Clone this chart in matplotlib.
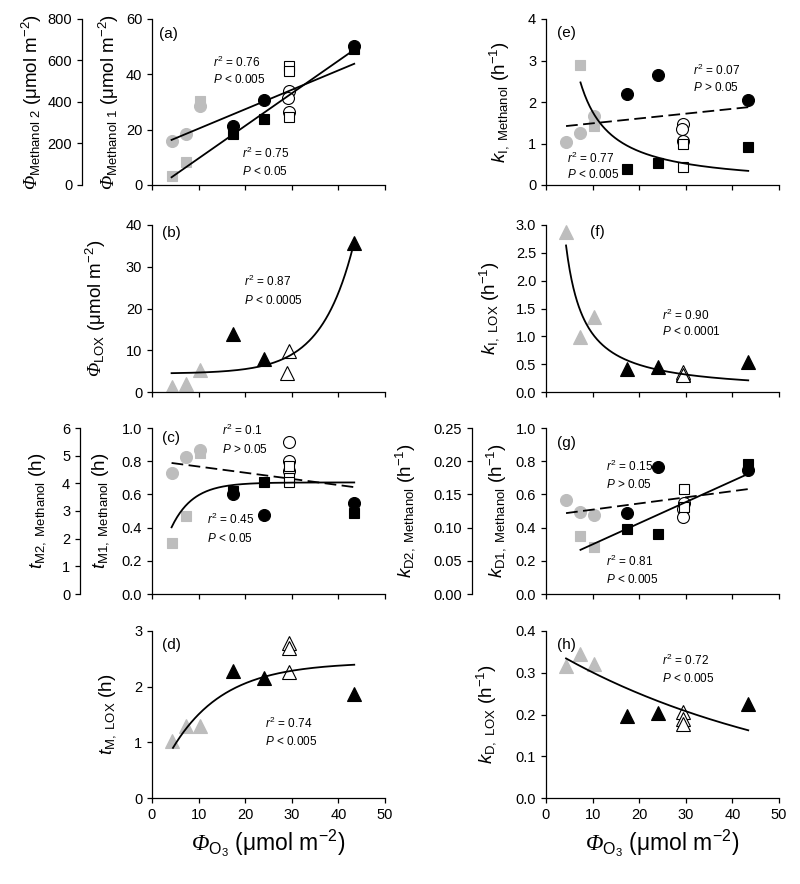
import numpy as np
import matplotlib
matplotlib.use('Agg')
import matplotlib.pyplot as plt
from matplotlib.ticker import FormatStrFormatter

plt.rcParams['font.family'] = ['Liberation Sans', 'DejaVu Sans']
plt.rcParams['mathtext.fontset'] = 'custom'
plt.rcParams['mathtext.rm'] = 'Liberation Sans'
plt.rcParams['mathtext.it'] = 'Liberation Sans:italic'
plt.rcParams['mathtext.bf'] = 'Liberation Sans:bold'
plt.rcParams['mathtext.cal'] = 'Liberation Serif:italic'

# ---------------- data ----------------
XG = [4.2, 7.3, 10.2]          # gray group ozone dose
XB = [17.3, 24.1, 43.4]        # black group ozone dose

# (a) Phi methanol: squares (left axis, umol m-2), circles (secondary axis)
a_sq_xw = [29.3, 29.4, 29.3]
a_sq_g = [3.1, 8.3, 30.5]
a_sq_b = [18.4, 23.9, 49.0]
a_sq_w = [43.0, 41.3, 24.5]
a_ci_xw = [29.3, 29.1, 29.4]
a_ci_g = [213, 247, 381]
a_ci_b = [283, 411, 672]
a_ci_w = [451, 419, 352]
a_sq_fit = [1.176, -2.14]      # slope, intercept
a_ci_fit = [9.36, 178.0]

# (b) Phi LOX
b_xw = [29.4, 29.0]
b_g = [1.2, 1.8, 5.2]
b_b = [13.8, 8.0, 35.8]
b_w = [9.8, 4.6]
b_fit = [4.4, 0.0617, 0.1437]  # y0 + a*exp(c*x)

# (c) t_M methanol
c_sq_xw = [29.3, 29.5, 29.5]
c_sq_g = [0.31, 0.47, 0.85]
c_sq_b = [0.622, 0.674, 0.487]
c_sq_w = [0.77, 0.698, 0.672]
c_ci_xw = [29.3, 29.3, 29.5]
c_ci_g = [4.37, 4.94, 5.21]
c_ci_b = [3.62, 2.86, 3.28]
c_ci_w = [5.49, 4.82, 4.45]
c_sq_fit = [0.672, 0.217]      # a*(1-exp(-b x))
c_ci_fit = [-0.0223, 4.83]

# (d) t_M LOX
d_xg = [4.2, 7.4, 10.3]
d_xw = [29.3, 29.4, 29.3]
d_g = [1.02, 1.29, 1.29]
d_b = [2.29, 2.15, 1.87]
d_w = [2.79, 2.69, 2.26]
d_fit = [2.44, 2.31, 0.0902]   # a - b*exp(-c x)

# (e) k_I methanol
e_ci_xg = [4.3, 7.4, 10.2]
e_ci_g = [1.03, 1.26, 1.67]
e_ci_b = [2.2, 2.66, 2.04]
e_ci_xw = [29.5, 29.1, 29.3]
e_ci_w = [1.47, 1.35, 1.05]
e_sq_xg = [7.4, 10.2]
e_sq_g = [2.89, 1.43]
e_sq_b = [0.39, 0.52, 0.92]
e_sq_xw = [29.3, 29.5]
e_sq_w = [0.99, 0.43]
e_ci_fit = [0.01164, 1.37]
e_sq_fit = [23.3, -1.121]      # a*x^b

# (f) k_I LOX
f_xg = [4.3, 7.4, 10.2]
f_xw = [29.3, 29.5, 29.4]
f_g = [2.88, 0.98, 1.35]
f_b = [0.42, 0.45, 0.53]
f_w = [0.33, 0.36, 0.31]
f_fit = [13.0, -1.095]

# (g) k_D methanol
g_sq_xg = [7.4, 10.2]
g_sq_g = [0.352, 0.282]
g_sq_b = [0.392, 0.362, 0.785]
g_sq_xw = [29.7, 29.6]
g_sq_w = [0.633, 0.525]
g_ci_xg = [4.3, 7.4, 10.2]
g_ci_g = [0.141, 0.123, 0.119]
g_ci_b = [0.122, 0.192, 0.186]
g_ci_xw = [29.6, 29.5, 29.5]
g_ci_w = [0.137, 0.128, 0.116]
g_sq_fit = [0.01272, 0.1719]
g_ci_fit = [0.000927, 0.1178]

# (h) k_D LOX
h_xg = [4.3, 7.4, 10.2]
h_xw = [29.3, 29.4, 29.4]
h_g = [0.316, 0.346, 0.322]
h_b = [0.197, 0.204, 0.225]
h_w = [0.206, 0.190, 0.178]
h_fit = [0.362, 0.0185]        # a*exp(-b x)

# ---------------- style ----------------
GRAY = '#bdbdbd'
MS_C, MS_S, MS_T = 8.6, 7.6, 9.6
TICK_FS = 10.5
YL_FS = 13.5
XL_FS = 16.5
ANN_FS = 8.5
LW = 1.3
DASH = (0, (6.5, 3))

fig = plt.figure(figsize=(8, 8.84), dpi=100)
W, H = 800, 884


def make_ax(left_px, top_px, bottom_px, right_px):
    return fig.add_axes([left_px / W, 1 - bottom_px / H,
                         (right_px - left_px) / W, (bottom_px - top_px) / H])


def style(ax, ylim, yticks, fmt, bottom_row):
    ax.set_xlim(0, 50)
    ax.set_xticks(range(0, 51, 10))
    ax.set_ylim(*ylim)
    ax.set_yticks(yticks)
    ax.yaxis.set_major_formatter(FormatStrFormatter(fmt))
    for s in ['top', 'right']:
        ax.spines[s].set_visible(False)
    for s in ['left', 'bottom']:
        ax.spines[s].set_linewidth(0.9)
    ax.tick_params(direction='out', length=3.6, width=0.9, labelsize=TICK_FS, pad=3.5)
    if not bottom_row:
        ax.tick_params(axis='x', labelbottom=False)
    ax.patch.set_visible(False)


def secondary(ax, off, ylim, yticks, fmt):
    ax2 = ax.twinx()
    for s in ['top', 'right', 'bottom']:
        ax2.spines[s].set_visible(False)
    ax2.spines['left'].set_visible(True)
    ax2.spines['left'].set_position(('axes', off))
    ax2.spines['left'].set_linewidth(0.9)
    ax2.yaxis.set_ticks_position('left')
    ax2.yaxis.set_label_position('left')
    ax2.set_ylim(*ylim)
    ax2.set_yticks(yticks)
    ax2.yaxis.set_major_formatter(FormatStrFormatter(fmt))
    ax2.tick_params(direction='out', length=3.6, width=0.9, labelsize=TICK_FS, pad=3.5)
    ax2.set_zorder(ax.get_zorder() - 1)
    return ax2


def pts(ax, x, y, marker, kind, ms):
    if kind == 'g':
        ax.plot(x, y, marker, ls='none', ms=ms, mfc=GRAY, mec=GRAY, mew=0.8)
    elif kind == 'b':
        ax.plot(x, y, marker, ls='none', ms=ms, mfc='black', mec='black', mew=0.8)
    else:
        ax.plot(x, y, marker, ls='none', ms=ms, mfc='white', mec='black', mew=0.8)


def ann(ax, x, y, r2, p):
    ax.text(x, y[0], r'$r^2$ = ' + r2, fontsize=ANN_FS, va='center', ha='left')
    ax.text(x, y[1], r'$P$ ' + p, fontsize=ANN_FS, va='center', ha='left')


PHI = r'\mathcal{\Phi}'
XL = r'$' + PHI + r'_{\mathrm{O_3}}$ (μmol m$^{-2}$)'
LEFT = (152, 385)
RIGHT = (546, 779)
ROWS = [(19, 185), (225, 392), (428, 594), (631, 798)]

# ---------- (a) ----------
ax = make_ax(LEFT[0], ROWS[0][0], ROWS[0][1], LEFT[1])
style(ax, (0, 60), [0, 20, 40, 60], '%d', False)
ax2 = secondary(ax, -0.30, (0, 800), [0, 200, 400, 600, 800], '%d')
pts(ax2, XG, a_ci_g, 'o', 'g', MS_C)
pts(ax2, XB, a_ci_b, 'o', 'b', MS_C)
pts(ax2, a_ci_xw, a_ci_w, 'o', 'w', MS_C)
xx = np.linspace(min(XG), max(XB), 50)
ax2.plot(xx, a_ci_fit[0] * xx + a_ci_fit[1], color='black', lw=LW)
pts(ax, XG, a_sq_g, 's', 'g', MS_S)
pts(ax, XB, a_sq_b, 's', 'b', MS_S)
pts(ax, a_sq_xw, a_sq_w, 's', 'w', MS_S)
ax.plot(xx, a_sq_fit[0] * xx + a_sq_fit[1], color='black', lw=LW)
ax.text(1.6, 54.7, '(a)', fontsize=11, va='center')
ann(ax, 13.1, (44.2, 38.0), '0.76', '< 0.005')
ann(ax, 19.4, (11.5, 4.9), '0.75', '< 0.05')
ax.set_ylabel(r'$' + PHI + r'_{\mathrm{Methanol\ 1}}$ (μmol m$^{-2}$)', fontsize=YL_FS)
ax.yaxis.set_label_coords(-0.133, 0.5)
ax2.set_ylabel(r'$' + PHI + r'_{\mathrm{Methanol\ 2}}$ (μmol m$^{-2}$)', fontsize=YL_FS)
ax2.yaxis.set_label_coords(-0.462, 0.5)

# ---------- (b) ----------
ax = make_ax(LEFT[0], ROWS[1][0], ROWS[1][1], LEFT[1])
style(ax, (0, 40), [0, 10, 20, 30, 40], '%d', False)
pts(ax, XG, b_g, '^', 'g', MS_T)
pts(ax, XB, b_b, '^', 'b', MS_T)
pts(ax, b_xw, b_w, '^', 'w', MS_T)
xx = np.linspace(min(XG), max(XB), 200)
ax.plot(xx, b_fit[0] + b_fit[1] * np.exp(b_fit[2] * xx), color='black', lw=LW)
ax.text(2.1, 38, '(b)', fontsize=11, va='center')
ann(ax, 19.8, (26.4, 22.0), '0.87', '< 0.0005')
ax.set_ylabel(r'$' + PHI + r'_{\mathrm{LOX}}$ (μmol m$^{-2}$)', fontsize=YL_FS)
ax.yaxis.set_label_coords(-0.189, 0.5)

# ---------- (c) ----------
ax = make_ax(LEFT[0], ROWS[2][0], ROWS[2][1], LEFT[1])
style(ax, (0, 1.0), [0, 0.2, 0.4, 0.6, 0.8, 1.0], '%.1f', False)
ax2 = secondary(ax, -0.309, (0, 6), [0, 1, 2, 3, 4, 5, 6], '%d')
pts(ax2, XG, c_ci_g, 'o', 'g', MS_C)
pts(ax2, XB, c_ci_b, 'o', 'b', MS_C)
pts(ax2, c_ci_xw, c_ci_w, 'o', 'w', MS_C)
xx = np.linspace(min(XG), max(XB), 200)
ax2.plot(xx, c_ci_fit[0] * xx + c_ci_fit[1], color='black', lw=LW, ls=DASH)
pts(ax, XG, c_sq_g, 's', 'g', MS_S)
pts(ax, XB, c_sq_b, 's', 'b', MS_S)
pts(ax, c_sq_xw, c_sq_w, 's', 'w', MS_S)
ax.plot(xx, c_sq_fit[0] * (1 - np.exp(-c_sq_fit[1] * xx)), color='black', lw=LW)
ax.text(2.1, 0.94, '(c)', fontsize=11, va='center')
ann(ax, 15.1, (0.988, 0.87), '0.1', '> 0.05')
ann(ax, 11.7, (0.447, 0.336), '0.45', '< 0.05')
ax.set_ylabel(r'$\mathit{t}_{\mathrm{M1,\ Methanol}}$ (h)', fontsize=YL_FS)
ax.yaxis.set_label_coords(-0.176, 0.5)
ax2.set_ylabel(r'$\mathit{t}_{\mathrm{M2,\ Methanol}}$ (h)', fontsize=YL_FS)
ax2.yaxis.set_label_coords(-0.445, 0.5)

# ---------- (d) ----------
ax = make_ax(LEFT[0], ROWS[3][0], ROWS[3][1], LEFT[1])
style(ax, (0, 3), [0, 1, 2, 3], '%d', True)
pts(ax, d_xg, d_g, '^', 'g', MS_T)
pts(ax, XB, d_b, '^', 'b', MS_T)
pts(ax, d_xw, d_w, '^', 'w', MS_T)
xx = np.linspace(4.5, max(XB), 200)
ax.plot(xx, d_fit[0] - d_fit[1] * np.exp(-d_fit[2] * xx), color='black', lw=LW)
ax.text(2.1, 2.75, '(d)', fontsize=11, va='center')
ann(ax, 24.2, (1.34, 1.01), '0.74', '< 0.005')
ax.set_ylabel(r'$\mathit{t}_{\mathrm{M,\ LOX}}$ (h)', fontsize=YL_FS)
ax.yaxis.set_label_coords(-0.146, 0.5)
ax.set_xlabel(XL, fontsize=XL_FS)

# ---------- (e) ----------
ax = make_ax(RIGHT[0], ROWS[0][0], ROWS[0][1], RIGHT[1])
style(ax, (0, 4), [0, 1, 2, 3, 4], '%d', False)
pts(ax, e_ci_xg, e_ci_g, 'o', 'g', MS_C)
pts(ax, XB, e_ci_b, 'o', 'b', MS_C)
pts(ax, e_ci_xw, e_ci_w, 'o', 'w', MS_C)
pts(ax, e_sq_xg, e_sq_g, 's', 'g', MS_S)
pts(ax, XB, e_sq_b, 's', 'b', MS_S)
pts(ax, e_sq_xw, e_sq_w, 's', 'w', MS_S)
xx = np.linspace(min(e_ci_xg), max(XB), 200)
ax.plot(xx, e_ci_fit[0] * xx + e_ci_fit[1], color='black', lw=LW, ls=DASH)
xx = np.linspace(min(e_sq_xg), max(XB), 200)
ax.plot(xx, e_sq_fit[0] * xx ** e_sq_fit[1], color='black', lw=LW)
ax.text(2.3, 3.67, '(e)', fontsize=11, va='center')
ann(ax, 31.6, (2.76, 2.34), '0.07', '> 0.05')
ann(ax, 4.4, (0.64, 0.25), '0.77', '< 0.005')
ax.set_ylabel(r'$\mathit{k}_{\mathrm{I,\ Methanol}}$ (h$^{-1}$)', fontsize=YL_FS)
ax.yaxis.set_label_coords(-0.150, 0.5)

# ---------- (f) ----------
ax = make_ax(RIGHT[0], ROWS[1][0], ROWS[1][1], RIGHT[1])
style(ax, (0, 3.0), [0, 0.5, 1.0, 1.5, 2.0, 2.5, 3.0], '%.1f', False)
pts(ax, f_xg, f_g, '^', 'g', MS_T)
pts(ax, XB, f_b, '^', 'b', MS_T)
pts(ax, f_xw, f_w, '^', 'w', MS_T)
xx = np.linspace(min(f_xg), max(XB), 200)
ax.plot(xx, f_fit[0] * xx ** f_fit[1], color='black', lw=LW)
ax.text(9.4, 2.88, '(f)', fontsize=11, va='center')
ann(ax, 24.8, (1.38, 1.08), '0.90', '< 0.0001')
ax.set_ylabel(r'$\mathit{k}_{\mathrm{I,\ LOX}}$ (h$^{-1}$)', fontsize=YL_FS)
ax.yaxis.set_label_coords(-0.193, 0.5)

# ---------- (g) ----------
ax = make_ax(RIGHT[0], ROWS[2][0], ROWS[2][1], RIGHT[1])
style(ax, (0, 1.0), [0, 0.2, 0.4, 0.6, 0.8, 1.0], '%.1f', False)
ax2 = secondary(ax, -0.318, (0, 0.25), [0, 0.05, 0.10, 0.15, 0.20, 0.25], '%.2f')
pts(ax2, g_ci_xg, g_ci_g, 'o', 'g', MS_C)
pts(ax2, XB, g_ci_b, 'o', 'b', MS_C)
pts(ax2, g_ci_xw, g_ci_w, 'o', 'w', MS_C)
xx = np.linspace(min(g_ci_xg), max(XB), 200)
ax2.plot(xx, g_ci_fit[0] * xx + g_ci_fit[1], color='black', lw=LW, ls=DASH)
pts(ax, g_sq_xg, g_sq_g, 's', 'g', MS_S)
pts(ax, XB, g_sq_b, 's', 'b', MS_S)
pts(ax, g_sq_xw, g_sq_w, 's', 'w', MS_S)
xx = np.linspace(min(g_sq_xg), max(XB), 200)
ax.plot(xx, g_sq_fit[0] * xx + g_sq_fit[1], color='black', lw=LW)
ax.text(2.3, 0.91, '(g)', fontsize=11, va='center')
ann(ax, 12.9, (0.77, 0.658), '0.15', '> 0.05')
ann(ax, 12.9, (0.195, 0.085), '0.81', '< 0.005')
ax.set_ylabel(r'$\mathit{k}_{\mathrm{D1,\ Methanol}}$ (h$^{-1}$)', fontsize=YL_FS)
ax.yaxis.set_label_coords(-0.163, 0.5)
ax2.set_ylabel(r'$\mathit{k}_{\mathrm{D2,\ Methanol}}$ (h$^{-1}$)', fontsize=YL_FS)
ax2.yaxis.set_label_coords(-0.555, 0.5)

# ---------- (h) ----------
ax = make_ax(RIGHT[0], ROWS[3][0], ROWS[3][1], RIGHT[1])
style(ax, (0, 0.4), [0, 0.1, 0.2, 0.3, 0.4], '%.1f', True)
pts(ax, h_xg, h_g, '^', 'g', MS_T)
pts(ax, XB, h_b, '^', 'b', MS_T)
pts(ax, h_xw, h_w, '^', 'w', MS_T)
xx = np.linspace(min(h_xg), max(XB), 200)
ax.plot(xx, h_fit[0] * np.exp(-h_fit[1] * xx), color='black', lw=LW)
ax.text(2.3, 0.366, '(h)', fontsize=11, va='center')
ann(ax, 24.8, (0.33, 0.286), '0.72', '< 0.005')
ax.set_ylabel(r'$\mathit{k}_{\mathrm{D,\ LOX}}$ (h$^{-1}$)', fontsize=YL_FS)
ax.yaxis.set_label_coords(-0.206, 0.5)
ax.set_xlabel(XL, fontsize=XL_FS)

fig.savefig('out.png', dpi=100)
